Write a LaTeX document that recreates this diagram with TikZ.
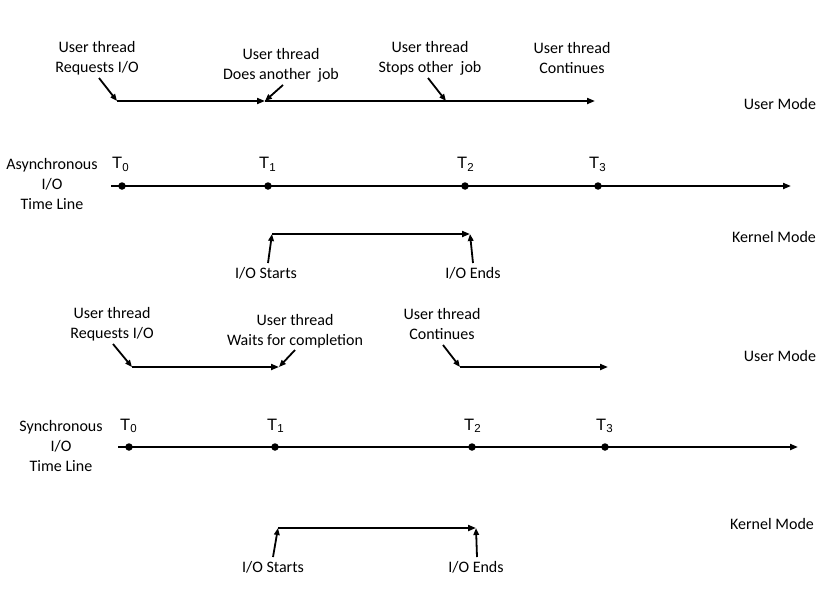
\documentclass[tikz,border=0pt]{standalone}
\usepackage{fontspec}
\setmainfont{Carlito}
\newfontfamily\tfont{Liberation Sans}
\usetikzlibrary{arrows.meta}
\tikzset{
  lab/.style={font=\fontsize{16}{20}\selectfont, align=center, inner sep=0pt, text=black},
  tlab/.style={font=\tfont\fontsize{16.5}{18}\selectfont, inner sep=0pt, anchor=base west},
  dot/.style={circle, fill=black, inner sep=0pt, minimum size=7.5pt},
  arr/.style={line width=1.9pt, -{Triangle[length=8pt,width=6pt]}},
  ptr/.style={line width=1.8pt, -{Triangle[length=7pt,width=5.5pt]}}
}
\newcommand{\Tsub}[1]{T\raisebox{-2.5pt}{\fontsize{11.5}{11.5}\selectfont #1}}
\begin{document}
\begin{tikzpicture}[x=1pt,y=-1pt]
\useasboundingbox (0,0) rectangle (834,605);

% ===== Asynchronous =====
% user mode labels
\node[lab] (ar) at (97,58) {User thread\\Requests I/O};
\node[lab] (ad) at (281,65) {User thread\\Does another\ \ job};
\node[lab] (as) at (430,58) {User thread\\Stops other\ \ job};
\node[lab] (ac) at (572,58) {User thread\\Continues};
\node[lab] (aum) at (780,104) {User Mode};

\coordinate (au0) at (117,101);
\coordinate (au1) at (265,101);
\coordinate (au2) at (446,101);
\coordinate (au3) at (595,101);
\draw[arr] (au0) -- (au1);
\draw[arr] (au1) -- (au3);
\coordinate (arp) at (99,78);
\coordinate (adp) at (283,85);
\coordinate (asp) at (428,78);
\draw[ptr] (arp) -- (au0);
\draw[ptr] (adp) -- (au1);
\draw[ptr] (asp) -- (au2);

% timeline
\node[lab] (atl) at (52,184) {Asynchronous\\I/O\\Time Line};
\coordinate (ats) at (111,186);
\coordinate (ate) at (791,186);
\draw[arr] (ats) -- (ate);
\node[dot] (at0) at (122,186) {};
\node[dot] (at1) at (268,186) {};
\node[dot] (at2) at (465,186) {};
\node[dot] (at3) at (598,186) {};
\node[tlab] (aT0) at (112,168.5) {\Tsub{0}};
\node[tlab] (aT1) at (259,168.5) {\Tsub{1}};
\node[tlab] (aT2) at (457,168.5) {\Tsub{2}};
\node[tlab] (aT3) at (589,168.5) {\Tsub{3}};

% kernel
\node[lab] (akm) at (774,237) {Kernel Mode};
\coordinate (ak0) at (272,234);
\coordinate (ak1) at (470,234);
\draw[arr] (ak0) -- (ak1);
\node[lab] (ais) at (266,273) {I/O Starts};
\node[lab] (aie) at (473,273) {I/O Ends};
\coordinate (aisp) at (268,263);
\coordinate (aiep) at (473,263);
\draw[ptr] (aisp) -- (ak0);
\draw[ptr] (aiep) -- (ak1);

% ===== Synchronous =====
\node[lab] (sr) at (112,324) {User thread\\Requests I/O};
\node[lab] (sw) at (295,331) {User thread\\Waits for completion};
\node[lab] (sc) at (442,324) {User thread\\Continues};
\node[lab] (sum) at (780,356) {User Mode};

\coordinate (su0) at (132,367);
\coordinate (su1) at (279,367);
\coordinate (su2) at (460,367);
\coordinate (su3) at (608,367);
\draw[arr] (su0) -- (su1);
\draw[arr] (su2) -- (su3);
\coordinate (srp) at (113,344);
\coordinate (swp) at (295,350);
\coordinate (scp) at (443,345);
\draw[ptr] (srp) -- (su0);
\draw[ptr] (swp) -- (su1);
\draw[ptr] (scp) -- (su2);

% timeline
\node[lab] (stl) at (61,446) {Synchronous\\I/O\\Time Line};
\coordinate (sts) at (118,447);
\coordinate (ste) at (798,447);
\draw[arr] (sts) -- (ste);
\node[dot] (st0) at (129,447) {};
\node[dot] (st1) at (275,447) {};
\node[dot] (st2) at (472,447) {};
\node[dot] (st3) at (605,447) {};
\node[tlab] (sT0) at (120,430) {\Tsub{0}};
\node[tlab] (sT1) at (267,430) {\Tsub{1}};
\node[tlab] (sT2) at (464,430) {\Tsub{2}};
\node[tlab] (sT3) at (596,430) {\Tsub{3}};

% kernel
\node[lab] (skm) at (772,524) {Kernel Mode};
\coordinate (sk0) at (278,528);
\coordinate (sk1) at (476,528);
\draw[arr] (sk0) -- (sk1);
\node[lab] (sis) at (273,567) {I/O Starts};
\node[lab] (sie) at (476,567) {I/O Ends};
\coordinate (sisp) at (273,557);
\coordinate (siep) at (477,557);
\draw[ptr] (sisp) -- (sk0);
\draw[ptr] (siep) -- (sk1);
\end{tikzpicture}
\end{document}
